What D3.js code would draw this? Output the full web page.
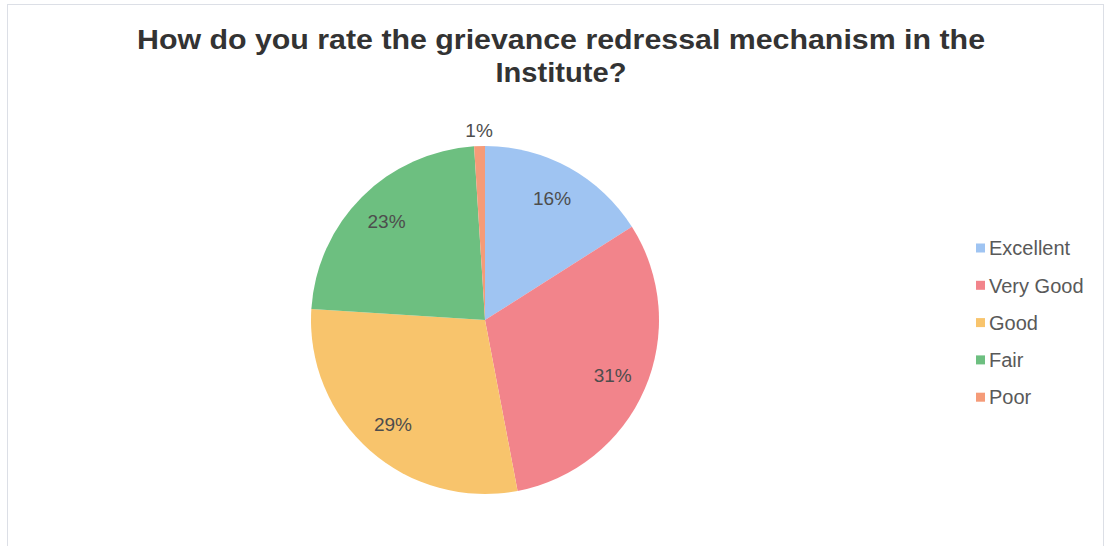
<!DOCTYPE html>
<html>
<head>
<meta charset="utf-8">
<script src="https://cdn.jsdelivr.net/npm/d3@7"></script>
<style>
html,body{margin:0;padding:0;background:#fff;}
svg{display:block;}
</style>
</head>
<body>
<svg id="chart" width="1106" height="546"></svg>
<script>
const categories = ["Excellent", "Very Good", "Good", "Fair", "Poor"];
const values = [16, 31, 29, 23, 1];
const colors = ["#9fc4f2", "#f2848b", "#f8c46c", "#6dbf80", "#f59b78"];
const titleLines = ["How do you rate the grievance redressal mechanism in the", "Institute?"];

const svg = d3.select("#chart");
const W = 1106, H = 546;

// frame
svg.append("rect").attr("x", 7.5).attr("y", 4.5).attr("width", W - 10).attr("height", H - 4)
  .attr("fill", "#fff").attr("stroke", "#dcdfe6").attr("stroke-width", 1);

// title
const titleWidths = [848, 131];
svg.append("g").selectAll("text").data(titleLines).join("text")
  .attr("x", 561).attr("y", (d, i) => 49 + i * 33)
  .attr("text-anchor", "middle")
  .attr("font-family", "Liberation Sans, Arial, sans-serif")
  .attr("font-weight", "bold").attr("font-size", 27)
  .attr("fill", "#333")
  .attr("textLength", (d, i) => titleWidths[i])
  .attr("lengthAdjust", "spacingAndGlyphs")
  .text(d => d);

const cx = 485, cy = 320, R = 174;
const data = categories.map((c, i) => ({ cat: c, v: values[i] }));
const total = d3.sum(values);
const pie = d3.pie().value(d => d.v).sort(null);
const arcs = pie(data);
const arc = d3.arc().innerRadius(0).outerRadius(R);
const color = d3.scaleOrdinal().domain(categories).range(colors);

const g = svg.append("g").attr("transform", `translate(${cx},${cy})`);
g.selectAll("path").data(arcs).join("path")
  .attr("d", arc).attr("fill", d => color(d.data.cat));

const labelArc = d3.arc().innerRadius(R * 0.8).outerRadius(R * 0.8);
const outerArc = d3.arc().innerRadius(R * 1.09).outerRadius(R * 1.09);
g.selectAll("text.lab").data(arcs).join("text")
  .attr("class", "lab")
  .attr("transform", d => {
    const p = (d.data.v / total < 0.03) ? outerArc.centroid(d) : labelArc.centroid(d);
    return `translate(${p[0]},${p[1]})`;
  })
  .attr("text-anchor", "middle").attr("dy", "0.35em")
  .attr("font-family", "Liberation Sans, Arial, sans-serif")
  .attr("font-size", 19)
  .attr("fill", "#4d4d4d")
  .text(d => Math.round(d.data.v / total * 100) + "%");

// legend
const lg = svg.append("g");
const items = lg.selectAll("g").data(categories).join("g")
  .attr("transform", (d, i) => `translate(976,${248 + i * 37.3})`);
items.append("rect").attr("x", 0).attr("y", -4.5).attr("width", 9).attr("height", 9)
  .attr("fill", d => color(d));
items.append("text").attr("x", 13).attr("y", 0).attr("dy", "0.36em")
  .attr("font-family", "Liberation Sans, Arial, sans-serif")
  .attr("font-size", 20).attr("fill", "#595959")
  .text(d => d);
</script>
</body>
</html>
